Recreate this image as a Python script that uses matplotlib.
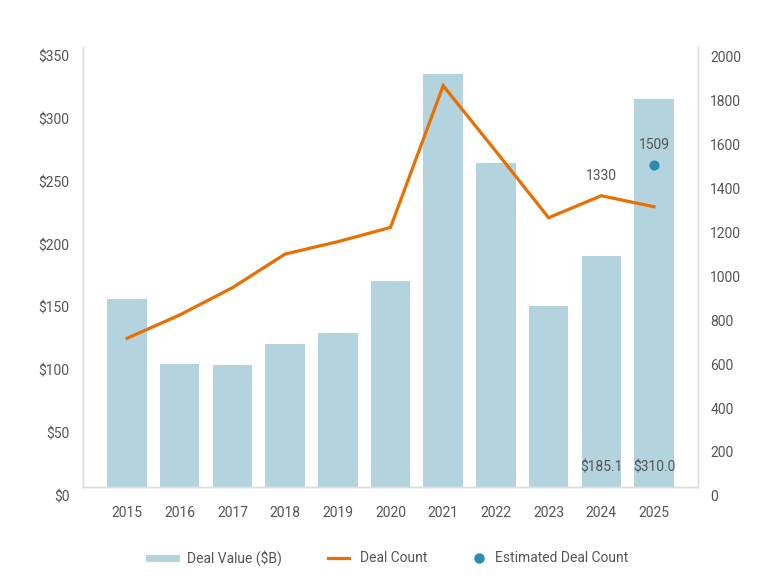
import matplotlib
matplotlib.use("Agg")
import matplotlib.pyplot as plt
from matplotlib.lines import Line2D
from matplotlib.transforms import ScaledTranslation
import numpy as np

plt.rcParams['font.family'] = ['Roboto', 'DejaVu Sans']

years = ['2015', '2016', '2017', '2018', '2019', '2020', '2021', '2022', '2023', '2024', '2025']
deal_value = [149.5, 97.8, 97.0, 113.8, 122.2, 163.9, 328.5, 258.0, 144.2, 184.0, 308.4]
deal_count = [676, 782, 906, 1059, 1115, 1180, 1824, 1526, 1224, 1324, 1274]
est_year_index = 10
est_count = 1462
est_label = '1509'
count_label_index = 9
count_label = '1330'
value_label_indices = [9, 10]
value_labels = ['$185.1', '$310.0']
left_ticks = [0, 50, 100, 150, 200, 250, 300, 350]
right_ticks = [0, 200, 400, 600, 800, 1000, 1200, 1400, 1600, 1800, 2000]

bar_color = '#b3d4df'
line_color = '#e86f00'
dot_color = '#2a8db0'
text_color = '#555555'
spine_color = '#dddddd'

fig = plt.figure(figsize=(7.8, 5.84), dpi=100)
ax = fig.add_axes([0.1068, 0.1661, 0.7877, 0.7534])
ax2 = ax.twinx()

x = np.arange(len(years))
ax.bar(x, deal_value, width=0.75, color=bar_color, zorder=1)
ax.set_xlim(-0.83, 10.83)
ax.set_ylim(0, 350)
ax.set_yticks(left_ticks)
ax.set_yticklabels([f'${t}' for t in left_ticks])
ax.set_xticks(x)
ax.set_xticklabels(years)

ax2.plot(x, deal_count, color=line_color, lw=2.3, zorder=3, solid_joinstyle='miter')
ax2.scatter([est_year_index], [est_count], s=40, color=dot_color, zorder=4)
ax2.set_ylim(0, 2000)
ax2.set_yticks(right_ticks)
ax2.set_yticklabels([str(t) for t in right_ticks])

for a in (ax, ax2):
    a.tick_params(length=0, labelsize=10, labelcolor=text_color)
    a.spines['top'].set_visible(False)
    for s in ('left', 'right', 'bottom'):
        a.spines[s].set_color(spine_color)
        a.spines[s].set_linewidth(1.0)
ax.tick_params(axis='y', pad=10)
ax2.tick_params(axis='y', pad=9)
ax.tick_params(axis='x', pad=14)

off = ScaledTranslation(0, -0.09, fig.dpi_scale_trans)
for lab in ax.get_yticklabels() + ax2.get_yticklabels():
    lab.set_transform(lab.get_transform() + off)

# annotations
ax2.annotate(count_label, (count_label_index, deal_count[count_label_index]),
             xytext=(0, 14), textcoords='offset points', ha='center', va='center',
             fontsize=10, color=text_color)
ax2.annotate(est_label, (est_year_index, est_count),
             xytext=(0, 15), textcoords='offset points', ha='center', va='center',
             fontsize=10, color=text_color)
for i, t in zip(value_label_indices, value_labels):
    ax.annotate(t, (i, 0), xytext=(0, 14), textcoords='offset points',
                ha='center', va='center', fontsize=10, color=text_color)

# legend (manual placement)
ly = 1 - 558 / 584
fig.add_artist(Line2D([149 / 780, 176 / 780], [ly, ly], color=bar_color, lw=5,
                      transform=fig.transFigure))
fig.text(187 / 780, ly, 'Deal Value ($B)', va='center', ha='left', fontsize=10, color=text_color)
fig.add_artist(Line2D([328 / 780, 349 / 780], [ly, ly], color=line_color, lw=2.3,
                      transform=fig.transFigure))
fig.text(360 / 780, ly, 'Deal Count', va='center', ha='left', fontsize=10, color=text_color)
fig.add_artist(Line2D([479 / 780], [ly], marker='o', markersize=6.5, color=dot_color,
                      linestyle='none', transform=fig.transFigure))
fig.text(495 / 780, ly, 'Estimated Deal Count', va='center', ha='left', fontsize=10, color=text_color)

fig.savefig('out.png', dpi=100)
